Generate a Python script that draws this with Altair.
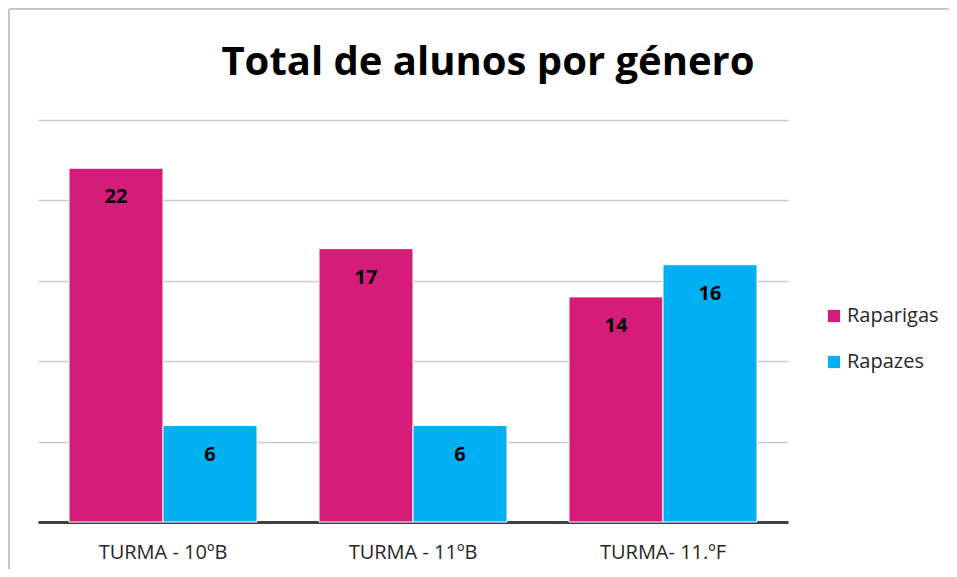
import altair as alt
import pandas as pd

turmas = ["TURMA - 10ºB", "TURMA - 11ºB", "TURMA- 11.ºF"]
raparigas = [22, 17, 14]
rapazes = [6, 6, 16]
generos = ["Raparigas", "Rapazes"]
cores = ["#D61C7B", "#00B0F0"]
titulo = "Total de alunos por género"

rows = []
for t, a, b in zip(turmas, raparigas, rapazes):
    rows.append({"turma": t, "genero": "Raparigas", "valor": a})
    rows.append({"turma": t, "genero": "Rapazes", "valor": b})
df = pd.DataFrame(rows)

FONT = "Open Sans"

x_enc = alt.X("turma:N", sort=turmas, title=None,
              scale=alt.Scale(paddingInner=0.248, paddingOuter=0.124),
              axis=alt.Axis(labelAngle=0, labelFontSize=20, labelFont=FONT,
                            labelColor="#262626", labelPadding=20, ticks=False,
                            domainColor="#404040", domainWidth=3))
xoff = alt.XOffset("genero:N", sort=generos, scale=alt.Scale(paddingInner=0, paddingOuter=0))
y_enc = alt.Y("valor:Q", title=None,
              scale=alt.Scale(domain=[0, 25], nice=False),
              axis=alt.Axis(values=[0, 5, 10, 15, 20, 25], labels=False, ticks=False,
                            domain=False, grid=True, gridColor="#cacaca", gridWidth=1.5))
color = alt.Color("genero:N", sort=generos, title=None,
                  scale=alt.Scale(domain=generos, range=cores),
                  legend=alt.Legend(orient="none", legendX=786, legendY=186,
                                    symbolType="square", symbolSize=150,
                                    symbolStrokeWidth=0, labelFontSize=20,
                                    labelFont=FONT, labelColor="#262626",
                                    rowPadding=26, padding=0, labelOffset=3))

bars = alt.Chart(df).mark_bar(stroke="white", strokeWidth=1).encode(
    x=x_enc, xOffset=xoff, y=y_enc, color=color)

labels = alt.Chart(df).mark_text(fontSize=20, fontWeight="bold", font=FONT,
                                 color="black", dy=29, baseline="middle").encode(
    x=alt.X("turma:N", sort=turmas), xOffset=xoff, y="valor:Q", text="valor:Q")

one = pd.DataFrame({"a": [0]})
frame_top = alt.Chart(one).mark_rule(stroke="#c6c6c6", strokeWidth=2).encode(
    x=alt.value(-29), x2=alt.value(911), y=alt.value(-111))
frame_left = alt.Chart(one).mark_rule(stroke="#c6c6c6", strokeWidth=2).encode(
    x=alt.value(-29), y=alt.value(-111), y2=alt.value(449))

title_mark = alt.Chart(pd.DataFrame({"t": [titulo]})).mark_text(
    fontSize=40, fontWeight="bold", font=FONT, color="black",
    align="center", baseline="alphabetic").encode(
    x=alt.value(450), y=alt.value(-45), text="t:N")

chart = alt.layer(frame_top, frame_left, bars, labels, title_mark).properties(
    width=750, height=402,
    autosize=alt.AutoSizeParams(type="none"),
    padding={"left": 30, "top": 112, "right": 161, "bottom": 47},
).configure_view(stroke=None)

chart.save("out.html", embed_options={"renderer": "svg", "actions": False})
